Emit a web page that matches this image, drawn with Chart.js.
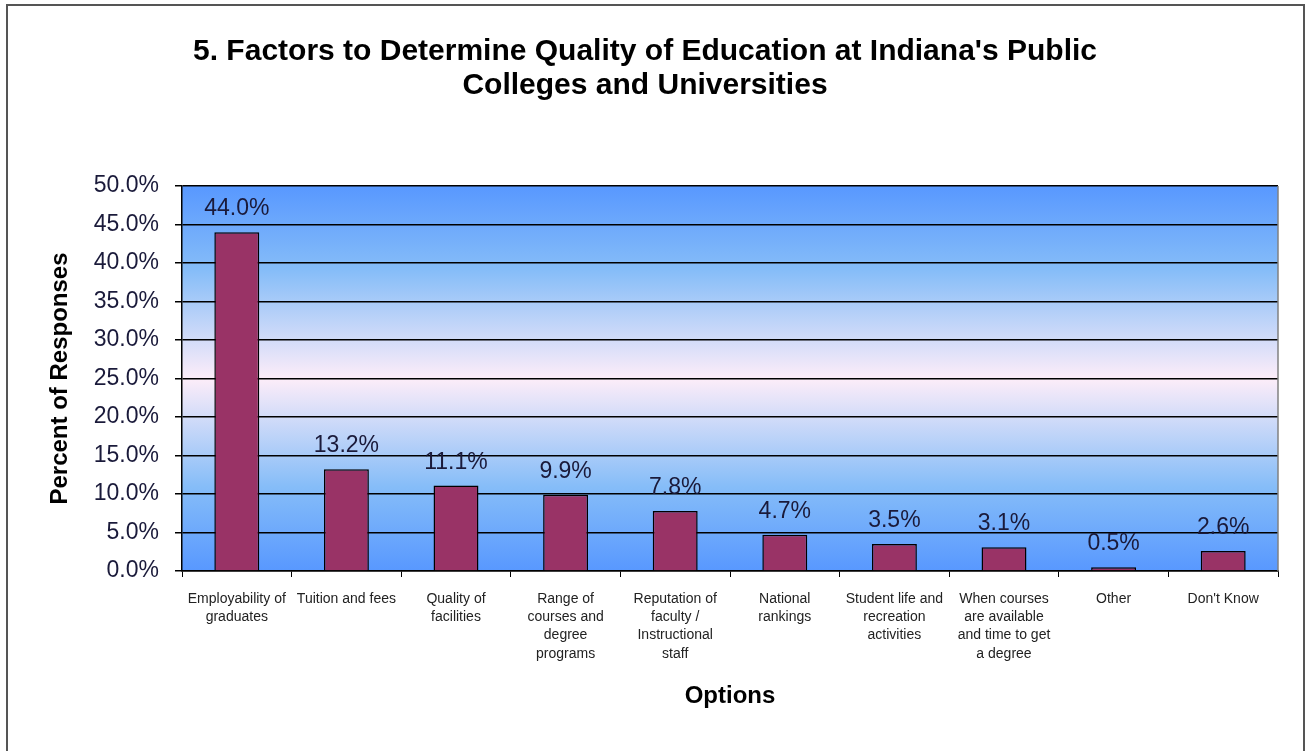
<!DOCTYPE html>
<html>
<head>
<meta charset="utf-8">
<script src="https://cdn.jsdelivr.net/npm/chart.js@4.4.0/dist/chart.umd.min.js"></script>
<style>
    body { margin: 0; background: #fff; }
    #wrap { width: 1308px; height: 751px; position: relative; }
</style>
</head>
<body>
<div id="wrap"><canvas id="qualityChart" width="1308" height="751"></canvas></div>
<script>
// chart values
const categories = [
    ['Employability of', 'graduates'],
    'Tuition and fees',
    ['Quality of', 'facilities'],
    ['Range of', 'courses and', 'degree', 'programs'],
    ['Reputation of', 'faculty /', 'Instructional', 'staff'],
    ['National', 'rankings'],
    ['Student life and', 'recreation', 'activities'],
    ['When courses', 'are available', 'and time to get', 'a degree'],
    'Other',
    "Don't Know"
];
const responses = [44.0, 13.2, 11.1, 9.9, 7.8, 4.7, 3.5, 3.1, 0.5, 2.6];
const titleLines = ["5. Factors to Determine Quality of Education at Indiana's Public", 'Colleges and Universities'];

document.addEventListener('DOMContentLoaded', function () {
    const ctx = document.getElementById('qualityChart').getContext('2d');

    // gradient fill behind the plot area, plus the frame around everything
    const backdrop = {
        id: 'backdrop',
        beforeDraw(chart) {
            const { ctx, chartArea: a } = chart;
            ctx.save();
            ctx.strokeStyle = '#555';
            ctx.lineWidth = 2;
            ctx.strokeRect(7, 5, 1297, 760);
            const g = ctx.createLinearGradient(0, a.top, 0, a.bottom);
            g.addColorStop(0, '#5898ff');
            g.addColorStop(0.22, '#86bdf8');
            g.addColorStop(0.5, '#fdedf9');
            g.addColorStop(0.78, '#86bdf8');
            g.addColorStop(1, '#5898ff');
            ctx.fillStyle = g;
            ctx.fillRect(a.left, a.top, a.right - a.left, a.bottom - a.top);
            ctx.restore();
        },
        afterDraw(chart) {
            const { ctx, chartArea: a } = chart;
            ctx.save();
            ctx.strokeStyle = '#808080';
            ctx.lineWidth = 1.5;
            ctx.beginPath();
            ctx.moveTo(a.right, a.top);
            ctx.lineTo(a.right, a.bottom);
            ctx.stroke();
            ctx.restore();
        }
    };

    // value labels over each bar
    const valueLabels = {
        id: 'valueLabels',
        afterDatasetsDraw(chart) {
            const { ctx } = chart;
            const meta = chart.getDatasetMeta(0);
            ctx.save();
            ctx.font = '23px "Liberation Sans", Arial, sans-serif';
            ctx.fillStyle = '#1a1a3a';
            ctx.textAlign = 'center';
            ctx.textBaseline = 'alphabetic';
            meta.data.forEach((bar, i) => {
                ctx.fillText(responses[i].toFixed(1) + '%', bar.x, bar.y - 17);
            });
            ctx.restore();
        }
    };

    new Chart(ctx, {
        type: 'bar',
        data: {
            labels: categories,
            datasets: [{
                label: 'Percent of Responses',
                data: responses,
                backgroundColor: '#993366',
                borderColor: '#000',
                borderWidth: 1.5,
                barPercentage: 0.41,
                categoryPercentage: 1
            }]
        },
        options: {
            responsive: false,
            animation: false,
            layout: { padding: { left: 12, right: 30, top: 0, bottom: 0 } },
            plugins: {
                legend: { display: false },
                tooltip: { enabled: false },
                title: {
                    display: true,
                    text: titleLines,
                    color: '#000',
                    font: { family: '"Liberation Sans", Arial, sans-serif', size: 30, weight: 'bold', lineHeight: 1.15 },
                    padding: { top: 34, bottom: 83 }
                }
            },
            scales: {
                y: {
                    min: 0,
                    max: 50,
                    ticks: {
                        stepSize: 5,
                        padding: 16,
                        color: '#1a1a3a',
                        font: { family: '"Liberation Sans", Arial, sans-serif', size: 23 },
                        callback: v => v.toFixed(1) + '%'
                    },
                    grid: { color: '#000', lineWidth: 1.5, tickLength: 7, tickColor: '#000' },
                    border: { color: '#000', width: 1.5 },
                    title: {
                        display: true,
                        text: 'Percent of Responses',
                        color: '#000',
                        font: { family: '"Liberation Sans", Arial, sans-serif', size: 24, weight: 'bold' },
                        padding: { top: 34 }
                    },
                    afterFit(scale) { scale.width = 170; }
                },
                x: {
                    ticks: {
                        maxRotation: 0,
                        autoSkip: false,
                        padding: 13,
                        color: '#222',
                        font: { family: '"Liberation Sans", Arial, sans-serif', size: 14, lineHeight: 1.3 }
                    },
                    grid: { drawOnChartArea: false, tickLength: 6, tickColor: '#000', offset: true },
                    border: { color: '#000', width: 1.5 },
                    title: {
                        display: true,
                        text: 'Options',
                        color: '#000',
                        font: { family: '"Liberation Sans", Arial, sans-serif', size: 24, weight: 'bold' },
                        padding: { bottom: 40 }
                    },
                    afterFit(scale) { scale.height = 180; }
                }
            }
        },
        plugins: [backdrop, valueLabels]
    });
});
</script>
</body>
</html>
